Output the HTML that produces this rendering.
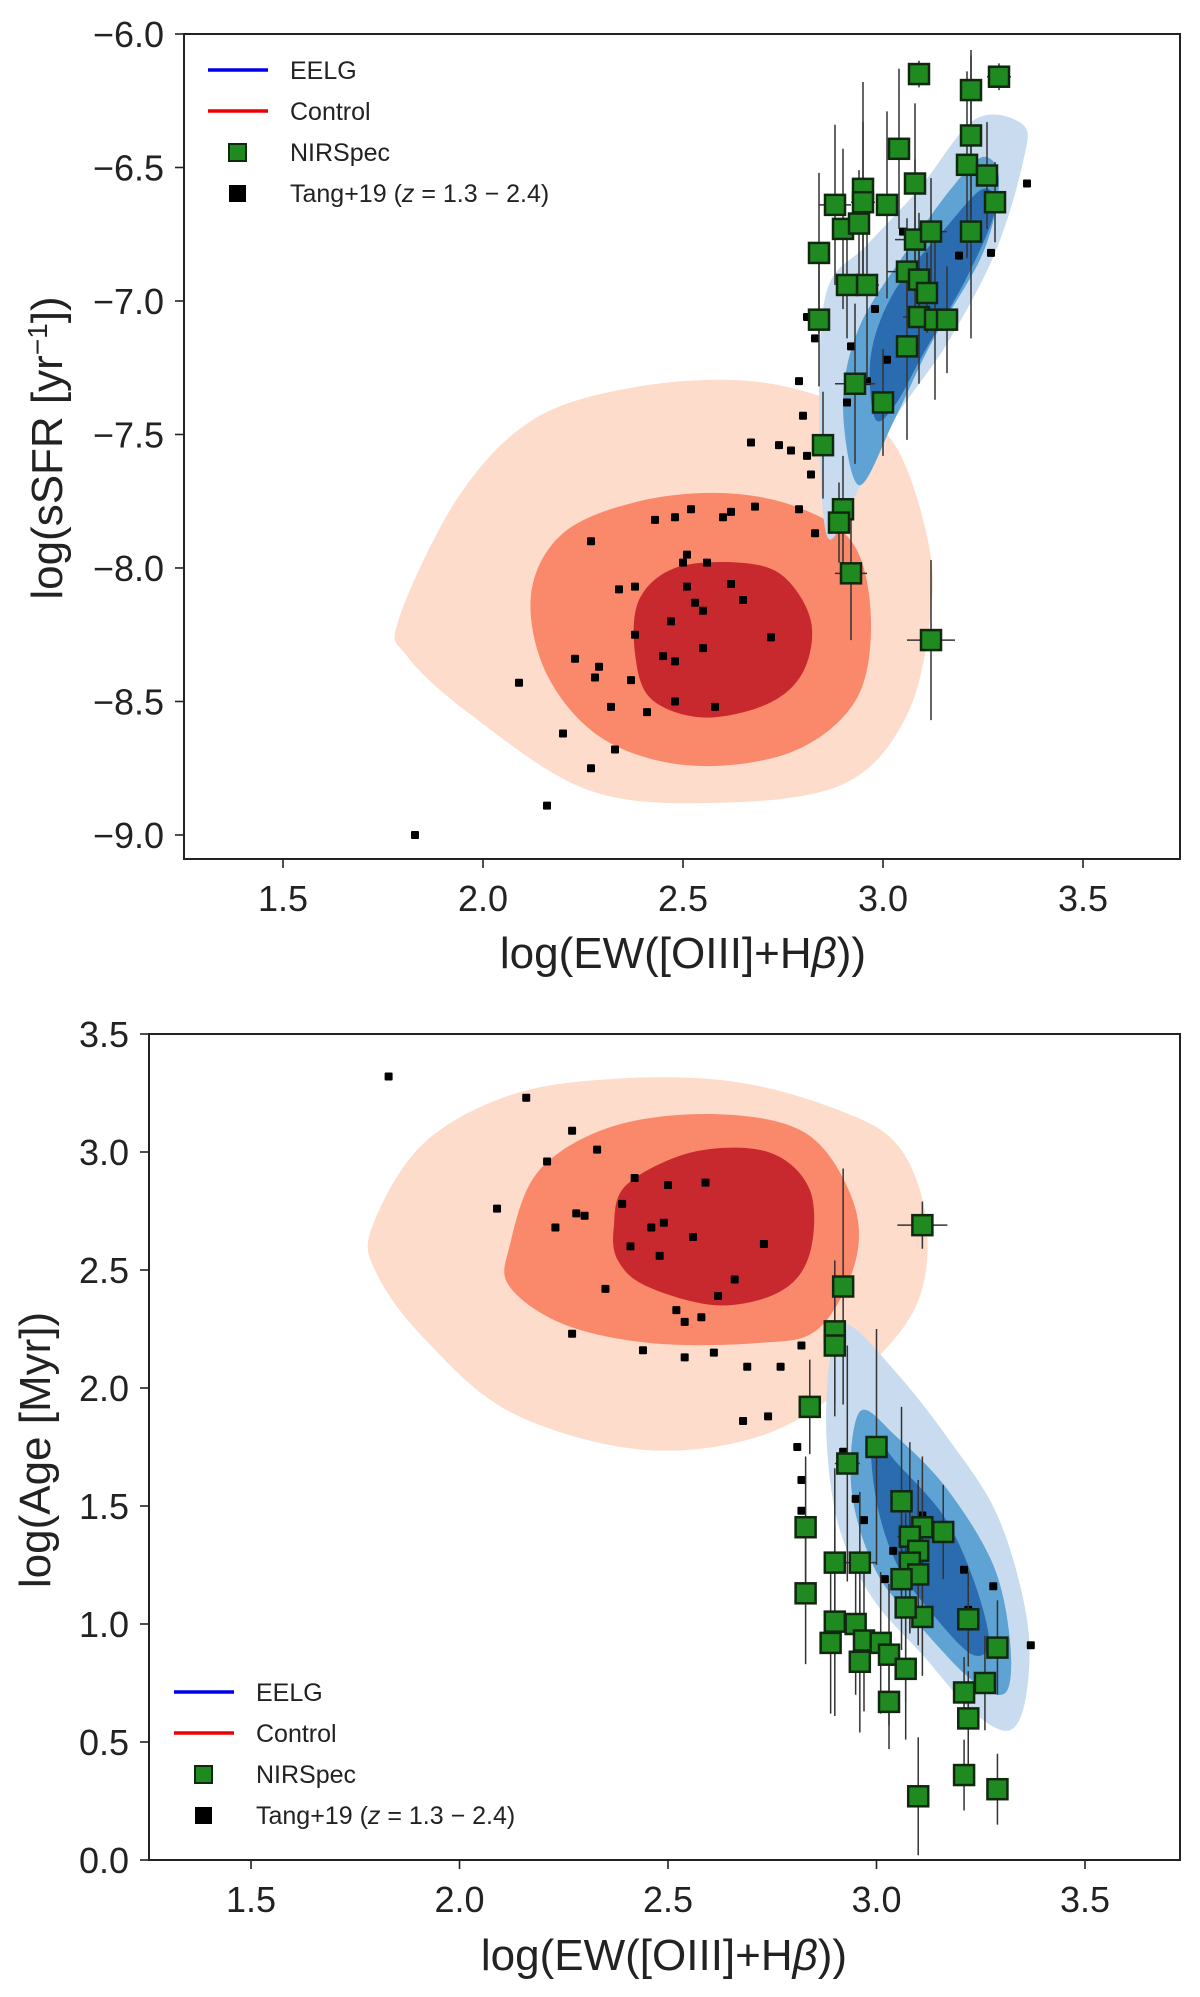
<!DOCTYPE html>
<html><head><meta charset="utf-8">
<style>
html,body{margin:0;padding:0;background:#fff;}
svg{display:block;font-family:"Liberation Sans",sans-serif;}
</style></head>
<body>
<svg id="fig" width="1200" height="1997" viewBox="0 0 1200 1997" xmlns="http://www.w3.org/2000/svg"></svg>
<script>
// ---------- Panel 1 data: log(sSFR) vs log(EW) ----------
const tangX1 = [1.83,2.16,2.09,2.20,2.23,2.27,2.28,2.29,2.33,2.32,2.37,2.27,2.34,2.38,2.38,2.41,2.43,2.45,2.47,2.48,2.48,2.48,2.50,2.51,2.51,2.52,2.53,2.55,2.55,2.56,2.58,2.60,2.62,2.62,2.65,2.68,2.67,2.74,2.72,2.79,2.77,2.79,2.80,2.81,2.82,2.83,2.81,2.83,2.91,2.92,2.96,2.98,3.01,3.05,3.10,3.19,3.27,3.36];
const tangY1 = [-9.0,-8.89,-8.43,-8.62,-8.34,-8.75,-8.41,-8.37,-8.68,-8.52,-8.42,-7.90,-8.08,-8.07,-8.25,-8.54,-7.82,-8.33,-8.20,-8.35,-7.81,-8.50,-7.98,-8.07,-7.95,-7.78,-8.13,-8.16,-8.30,-7.98,-8.52,-7.81,-7.79,-8.06,-8.12,-7.77,-7.53,-7.54,-8.26,-7.78,-7.56,-7.30,-7.43,-7.58,-7.65,-7.14,-7.06,-7.87,-7.38,-7.17,-7.30,-7.03,-7.22,-6.74,-6.74,-6.83,-6.82,-6.56];
const nirX1 = [3.09,3.22,3.29,3.22,3.04,3.21,3.26,3.28,2.88,2.95,2.95,3.01,3.08,2.90,2.94,2.84,3.08,3.12,3.22,2.96,3.06,2.91,3.09,3.11,3.09,3.13,3.16,2.84,3.06,2.93,3.00,2.85,2.90,2.89,2.92,3.12];
const nirY1 = [-6.15,-6.21,-6.16,-6.38,-6.43,-6.49,-6.53,-6.63,-6.64,-6.58,-6.63,-6.64,-6.56,-6.73,-6.71,-6.82,-6.77,-6.74,-6.74,-6.94,-6.89,-6.94,-6.92,-6.97,-7.06,-7.07,-7.07,-7.07,-7.17,-7.31,-7.38,-7.54,-7.78,-7.83,-8.02,-8.27];
const nirYerr1 = [0.05,0.15,0.05,0.3,0.3,0.35,0.2,0.15,0.3,0.4,0.3,0.35,0.3,0.3,0.2,0.3,0.3,0.2,0.4,0.35,0.2,0.2,0.25,0.15,0.25,0.3,0.2,0.25,0.35,0.3,0.2,0.2,0.2,0.15,0.25,0.3];
const nirXerr1 = [0.01,0.02,0.03,0.02,0.02,0.02,0.02,0.01,0.04,0.02,0.03,0.02,0.02,0.02,0.02,0.02,0.05,0.04,0.02,0.03,0.05,0.02,0.02,0.02,0.04,0.03,0.02,0.02,0.02,0.05,0.02,0.02,0.02,0.02,0.04,0.06];
// ---------- Panel 2 data: log(Age) vs log(EW) ----------
const tangX2 = [1.83,2.16,2.09,2.21,2.23,2.27,2.28,2.30,2.33,2.35,2.27,2.39,2.41,2.42,2.44,2.46,2.48,2.49,2.50,2.52,2.54,2.54,2.56,2.58,2.59,2.61,2.62,2.66,2.73,2.69,2.68,2.74,2.77,2.82,2.83,2.81,2.82,2.82,2.92,2.95,2.97,3.04,3.07,3.07,3.02,3.05,3.21,3.22,3.28,3.37,3.11];
const tangY2 = [3.32,3.23,2.76,2.96,2.68,3.09,2.74,2.73,3.01,2.42,2.23,2.78,2.60,2.89,2.16,2.68,2.56,2.70,2.86,2.33,2.28,2.13,2.64,2.30,2.87,2.15,2.39,2.46,2.61,2.09,1.86,1.88,2.09,2.18,1.95,1.75,1.61,1.48,1.73,1.53,1.44,1.31,1.39,1.07,1.19,1.51,1.23,1.06,1.16,0.91,1.46];
const nirX2 = [3.11,2.92,2.90,2.90,2.84,2.93,3.00,3.06,2.83,3.11,3.16,3.08,3.10,3.08,3.10,2.90,2.96,3.06,2.83,3.11,3.07,3.22,2.90,2.95,2.89,2.97,3.01,3.03,3.29,3.07,2.96,3.26,3.21,3.03,3.22,3.21,3.29,3.10];
const nirY2 = [2.69,2.43,2.24,2.18,1.92,1.68,1.75,1.52,1.41,1.41,1.39,1.37,1.31,1.26,1.21,1.26,1.26,1.19,1.13,1.03,1.07,1.02,1.01,1.00,0.92,0.93,0.92,0.87,0.90,0.81,0.84,0.75,0.71,0.67,0.60,0.36,0.30,0.27];
const nirYerr2 = [0.1,0.5,0.3,0.3,0.2,0.5,0.5,0.4,0.3,0.3,0.2,0.4,0.3,0.3,0.3,0.4,0.3,0.3,0.3,0.25,0.4,0.2,0.4,0.3,0.3,0.3,0.3,0.3,0.2,0.3,0.3,0.2,0.15,0.2,0.2,0.15,0.15,0.25];
const nirXerr2 = [0.06,0.02,0.02,0.02,0.02,0.03,0.02,0.02,0.02,0.02,0.02,0.03,0.02,0.02,0.02,0.02,0.04,0.02,0.02,0.02,0.02,0.02,0.02,0.02,0.02,0.02,0.02,0.02,0.02,0.02,0.02,0.02,0.02,0.02,0.02,0.02,0.02,0.02];
// ---------- KDE contour outlines (data coordinates) ----------
const redOuter1 = [[1.79,-8.19],[1.94,-7.73],[2.13,-7.44],[2.39,-7.32],[2.67,-7.30],[2.90,-7.39],[3.03,-7.54],[3.11,-7.88],[3.12,-8.16],[3.06,-8.55],[2.90,-8.81],[2.58,-8.88],[2.26,-8.83],[1.97,-8.55],[1.81,-8.33]];
const redMid1 = [[2.12,-8.10],[2.20,-7.87],[2.39,-7.75],[2.61,-7.72],[2.80,-7.78],[2.93,-7.92],[2.97,-8.21],[2.93,-8.50],[2.77,-8.69],[2.52,-8.74],[2.30,-8.64],[2.16,-8.40]];
const redIn1 = [[2.39,-8.12],[2.48,-8.00],[2.64,-7.98],[2.75,-8.03],[2.82,-8.20],[2.80,-8.39],[2.71,-8.51],[2.55,-8.56],[2.42,-8.49],[2.38,-8.32]];
const blueOuter1 = [[2.86,-7.88],[2.84,-7.39],[2.86,-6.96],[2.96,-6.79],[3.09,-6.58],[3.23,-6.32],[3.35,-6.34],[3.35,-6.48],[3.28,-6.82],[3.16,-7.16],[3.03,-7.44],[2.93,-7.73]];
const blueMid1 = [[2.94,-7.69],[2.90,-7.39],[2.94,-7.10],[3.06,-6.81],[3.17,-6.58],[3.25,-6.46],[3.29,-6.55],[3.25,-6.82],[3.12,-7.16],[3.03,-7.44]];
const blueIn1 = [[2.98,-7.44],[2.97,-7.20],[3.03,-6.96],[3.16,-6.72],[3.25,-6.58],[3.28,-6.66],[3.21,-6.91],[3.10,-7.20],[3.03,-7.39]];
const redOuter2 = [[1.79,2.68],[1.91,3.03],[2.12,3.24],[2.37,3.31],[2.65,3.30],[2.89,3.19],[3.05,3.03],[3.12,2.70],[3.09,2.33],[2.92,2.00],[2.71,1.79],[2.43,1.74],[2.12,1.90],[1.91,2.22],[1.80,2.49]];
const redMid2 = [[2.12,2.60],[2.19,2.92],[2.37,3.11],[2.62,3.16],[2.83,3.08],[2.94,2.81],[2.95,2.54],[2.86,2.25],[2.71,2.19],[2.46,2.19],[2.25,2.27],[2.12,2.43]];
const redIn2 = [[2.37,2.68],[2.40,2.86],[2.56,3.00],[2.74,3.00],[2.84,2.84],[2.84,2.57],[2.77,2.41],[2.62,2.35],[2.45,2.43],[2.38,2.54]];
const blueOuter2 = [[2.93,2.27],[3.05,2.06],[3.17,1.79],[3.29,1.46],[3.36,1.03],[3.36,0.71],[3.32,0.55],[3.23,0.63],[3.11,0.87],[2.99,1.11],[2.91,1.41],[2.88,1.79],[2.89,2.14]];
const blueMid2 = [[2.96,1.90],[3.05,1.79],[3.17,1.57],[3.28,1.25],[3.32,0.93],[3.31,0.71],[3.23,0.76],[3.11,0.98],[3.00,1.22],[2.94,1.57]];
const blueIn2 = [[2.99,1.79],[3.05,1.68],[3.16,1.46],[3.23,1.20],[3.27,0.93],[3.23,0.87],[3.14,1.03],[3.05,1.25],[3.00,1.52]];
// ---------- Ticks ----------
const xTicks = [1.5,2.0,2.5,3.0,3.5];
const xTickLabels = ["1.5","2.0","2.5","3.0","3.5"];
const yTicks1 = [-6.0,-6.5,-7.0,-7.5,-8.0,-8.5,-9.0];
const yTickLabels1 = ["\u22126.0","\u22126.5","\u22127.0","\u22127.5","\u22128.0","\u22128.5","\u22129.0"];
const yTicks2 = [0.0,0.5,1.0,1.5,2.0,2.5,3.0,3.5];
const yTickLabels2 = ["0.0","0.5","1.0","1.5","2.0","2.5","3.0","3.5"];
const legendLabels = ["EELG","Control","NIRSpec","Tang+19 ("];

const NS = "http://www.w3.org/2000/svg";
const fig = document.getElementById('fig');
function mk(tag, attrs, parent){
  const e = document.createElementNS(NS, tag);
  for (const k in attrs) e.setAttribute(k, attrs[k]);
  (parent||fig).appendChild(e);
  return e;
}
function smoothPath(pts){
  const n = pts.length; let d = `M${pts[0][0]},${pts[0][1]}`;
  for (let i=0;i<n;i++){
    const p0=pts[(i-1+n)%n], p1=pts[i], p2=pts[(i+1)%n], p3=pts[(i+2)%n];
    const c1=[p1[0]+(p2[0]-p0[0])/6, p1[1]+(p2[1]-p0[1])/6];
    const c2=[p2[0]-(p3[0]-p1[0])/6, p2[1]-(p3[1]-p1[1])/6];
    d += ` C${c1[0]},${c1[1]} ${c2[0]},${c2[1]} ${p2[0]},${p2[1]}`;
  }
  return d + 'Z';
}

function panel(cfg){
  const g = mk('g', {});
  
  
  const sx = v => cfg.L + (v - cfg.xmin) / (cfg.xmax - cfg.xmin) * (cfg.R - cfg.L);
  const sy = v => cfg.B - (v - cfg.ymin) / (cfg.ymax - cfg.ymin) * (cfg.B - cfg.T);
  const clipId = 'clip-' + cfg.name;
  const cp = mk('clipPath', {id: clipId}, g);
  mk('rect', {x:cfg.L, y:cfg.T, width:cfg.R-cfg.L, height:cfg.B-cfg.T}, cp);
  const plot = mk('g', {'clip-path': `url(#${clipId})`}, g);
  cfg.contours.forEach(c => {
    const p = mk('path', {d: smoothPath(c.pts.map(q => [sx(q[0]), sy(q[1])])), fill: c.fill}, plot);
    
    
  });
  cfg.tx.forEach((xv, i) => {
    const r = mk('rect', {x: sx(xv)-4, y: sy(cfg.ty[i])-4, width: 8, height: 8, rx: 1, fill: '#000'}, plot);
    
    
  });
  cfg.nx.forEach((xv, i) => {
    const x = sx(xv), y = sy(cfg.ny[i]);
    const e = mk('path', {d: `M${x},${sy(cfg.ny[i]+cfg.nye[i])}V${sy(cfg.ny[i]-cfg.nye[i])}M${sx(xv-cfg.nxe[i])},${y}H${sx(xv+cfg.nxe[i])}`, stroke: '#333', 'stroke-width': 1.5, fill: 'none'}, plot);
    
    
  });
  cfg.nx.forEach((xv, i) => {
    const x = sx(xv), y = sy(cfg.ny[i]);
    const r = mk('rect', {x: x-10, y: y-10, width: 20, height: 20, fill: '#1f8a1f', stroke: '#102810', 'stroke-width': 2.5}, plot);
    
    
  });
  mk('rect', {x:cfg.L, y:cfg.T, width:cfg.R-cfg.L, height:cfg.B-cfg.T, fill:'none', stroke:'#222', 'stroke-width':2}, g);
  xTicks.forEach((v, i) => {
    const x = sx(v);
    mk('line', {x1:x, x2:x, y1:cfg.B, y2:cfg.B+9, stroke:'#222', 'stroke-width':1.6}, g);
    const t = mk('text', {x:x, y:cfg.B+52, 'text-anchor':'middle', 'font-size':36, fill:'#222'}, g);
    t.textContent = xTickLabels[i];
    
    
  });
  cfg.yt.forEach((v, i) => {
    const y = sy(v);
    mk('line', {x1:cfg.L-9, x2:cfg.L, y1:y, y2:y, stroke:'#222', 'stroke-width':1.6}, g);
    const t = mk('text', {x:cfg.L-20, y:y+13, 'text-anchor':'end', 'font-size':36, fill:'#222'}, g);
    t.textContent = cfg.ytl[i];
    
    
  });
  const xt = mk('text', {x:cfg.xlx, y:cfg.xly, 'text-anchor':'middle', 'font-size':44, fill:'#222'}, g);
  xt.innerHTML = 'log(EW([OIII]+H<tspan font-style="italic">β</tspan>))';
  
  
  const yt = mk('text', {x:0, y:0, 'text-anchor':'middle', 'font-size':44, fill:'#222', transform:`translate(${cfg.ylx},${cfg.yly}) rotate(-90)`}, g);
  yt.innerHTML = cfg.ytitle;
  
  
  const lg = mk('g', {}, g);
  
  
  const lx = cfg.legX, ly = cfg.legY, dy = 41;
  mk('line', {x1:lx, x2:lx+60, y1:ly, y2:ly, stroke:'#0000ee', 'stroke-width':3.5}, lg);
  mk('line', {x1:lx, x2:lx+60, y1:ly+dy, y2:ly+dy, stroke:'#ee0000', 'stroke-width':3.5}, lg);
  mk('rect', {x:lx+21, y:ly+2*dy-8, width:17, height:17, fill:'#1f8a1f', stroke:'#102810', 'stroke-width':2}, lg);
  mk('rect', {x:lx+21, y:ly+3*dy-8, width:17, height:17, fill:'#000'}, lg);
  legendLabels.forEach((s, i) => {
    const t = mk('text', {x:lx+82, y:ly+i*dy+9, 'font-size':25, fill:'#222'}, lg);
    if (i < 3) t.textContent = s;
    else t.innerHTML = s + '<tspan font-style="italic">z</tspan> = 1.3 \u2212 2.4)';
    
    
  });
}

panel({name:'ssfr-panel', L:184, R:1180, T:34, B:859, xmin:1.2525, xmax:3.7425, ymin:-9.09, ymax:-6.0,
  tx:tangX1, ty:tangY1, nx:nirX1, ny:nirY1, nye:nirYerr1, nxe:nirXerr1, yt:yTicks1, ytl:yTickLabels1,
  contours:[{name:'control-contour-outer',pts:redOuter1,fill:'#fddccb'},{name:'control-contour-mid',pts:redMid1,fill:'#f9896a'},{name:'control-contour-inner',pts:redIn1,fill:'#c8292f'},
            {name:'eelg-contour-outer',pts:blueOuter1,fill:'#c9dcef'},{name:'eelg-contour-mid',pts:blueMid1,fill:'#5ea3d3'},{name:'eelg-contour-inner',pts:blueIn1,fill:'#2b6cb0'}],
  xlx:683, xly:968, ylx:62, yly:448, ytitle:'log(sSFR [yr<tspan baseline-shift="super" font-size="28">\u22121</tspan>])',
  legX:208, legY:70});
panel({name:'age-panel', L:149, R:1180, T:1034, B:1860, xmin:1.2554, xmax:3.7278, ymin:0, ymax:3.5,
  tx:tangX2, ty:tangY2, nx:nirX2, ny:nirY2, nye:nirYerr2, nxe:nirXerr2, yt:yTicks2, ytl:yTickLabels2,
  contours:[{name:'control-contour-outer',pts:redOuter2,fill:'#fddccb'},{name:'control-contour-mid',pts:redMid2,fill:'#f9896a'},{name:'control-contour-inner',pts:redIn2,fill:'#c8292f'},
            {name:'eelg-contour-outer',pts:blueOuter2,fill:'#c9dcef'},{name:'eelg-contour-mid',pts:blueMid2,fill:'#5ea3d3'},{name:'eelg-contour-inner',pts:blueIn2,fill:'#2b6cb0'}],
  xlx:664, xly:1970, ylx:50, yly:1450, ytitle:'log(Age [Myr])',
  legX:174, legY:1692});
</script>
</body></html>
